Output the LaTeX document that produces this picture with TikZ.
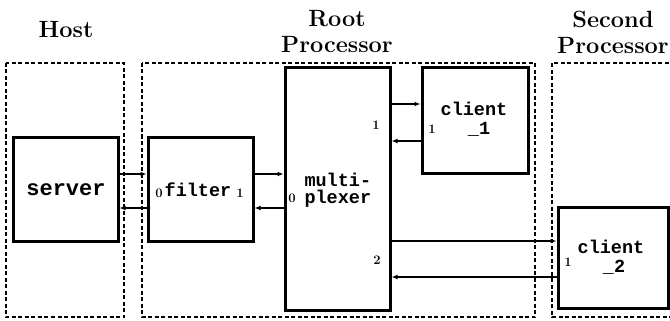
\documentclass[tikz,border=0pt]{standalone}
\usepackage{fontspec}
\newfontfamily\boxfont{Liberation Mono}
\usetikzlibrary{arrows.meta}
\begin{document}
\begin{tikzpicture}[x=1pt,y=-1pt,
  region/.style={line width=2pt,dash pattern=on 4pt off 2.5pt},
  proc/.style={draw,line width=3pt,inner sep=0pt},
  arr/.style={line width=1.4pt,-{Latex[length=6pt,width=5pt]}},
  title/.style={font=\fontsize{23.5}{26}\selectfont\bfseries,align=center},
  btext/.style={font=\boxfont\bfseries\fontsize{18.5}{20}\selectfont,align=left},
  port/.style={font=\fontsize{13}{14}\selectfont\bfseries,inner sep=0pt}]
\useasboundingbox (0,0) rectangle (670,321);
% regions
\draw[region] (6,63) rectangle (124,317);
\draw[region] (142,63) rectangle (535,317);
\draw[region] (675,63) -- (552,63) -- (552,317) -- (675,317);
% titles
\node[title] (thost) at (66,30) {Host};
\node[title] (troot) at (337,32) {Root\\Processor};
\node[title] (tsecond) at (613,32) {Second\\Processor};
% process boxes
\node[proc,minimum width=105pt,minimum height=104pt] (server) at (65.5,189) {};
\node[proc,minimum width=105pt,minimum height=104pt] (filter) at (200.5,189) {};
\node[proc,minimum width=105pt,minimum height=242pt] (mux) at (337.5,189) {};
\node[proc,minimum width=106pt,minimum height=105pt] (client1) at (475,120.5) {};
\node[proc,minimum width=110pt,minimum height=101pt] (client2) at (613,257.5) {};
% box texts
\node[font=\boxfont\bfseries\fontsize{22}{24}\selectfont] (tserver) at (66,190) {server};
\node[btext] (tfilter) at (198,190) {filter};
\node[port] (f0) at (159,193) {0};
\node[port] (f1) at (240,193) {1};
\node[btext,anchor=west] (tmux1) at (301,180) {multi-};
\node[btext,anchor=west] (tmux2) at (301,199) {plexer};
\node[port] (m0) at (292,198) {0};
\node[port] (m1) at (376,125) {1};
\node[port] (m2) at (377,260) {2};
\node[btext] (tc1a) at (474,109) {client};
\node[btext] (tc1b) at (479,129) {\_1};
\node[port] (c1p) at (432,129) {1};
\node[btext] (tc2a) at (611,247) {client};
\node[btext] (tc2b) at (614,267) {\_2};
\node[port] (c2p) at (568,262) {1};
% connector levels
\coordinate (ya) at (0,174);
\coordinate (yb) at (0,208);
\coordinate (yc) at (0,104);
\coordinate (yd) at (0,141);
\coordinate (ye) at (0,241);
\coordinate (yf) at (0,277);
% connectors
\draw[arr] (server.east |- ya) -- (filter.west |- ya);
\draw[arr] (filter.west |- yb) -- (server.east |- yb);
\draw[arr] (filter.east |- ya) -- (mux.west |- ya);
\draw[arr] (mux.west |- yb) -- (filter.east |- yb);
\draw[arr] (mux.east |- yc) -- (client1.west |- yc);
\draw[arr] (client1.west |- yd) -- (mux.east |- yd);
\draw[arr] (mux.east |- ye) -- (client2.west |- ye);
\draw[arr] (client2.west |- yf) -- (mux.east |- yf);
\end{tikzpicture}
\end{document}
